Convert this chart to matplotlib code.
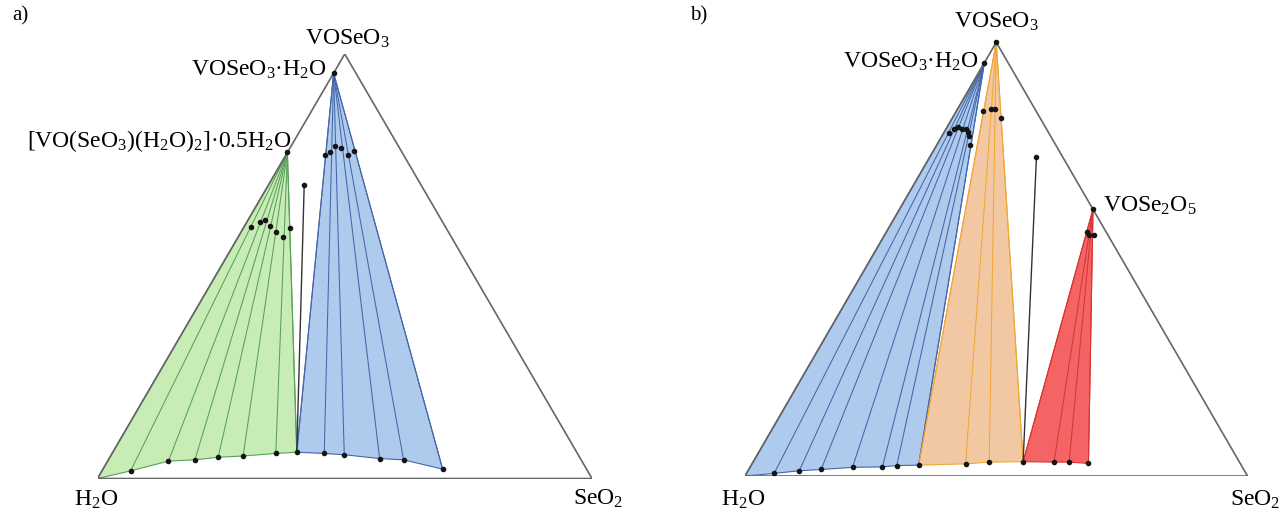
import numpy as np
from matplotlib import pyplot as plt

plt.rcParams['font.family'] = ['Liberation Serif', 'DejaVu Serif']
plt.rcParams['mathtext.fontset'] = 'custom'
plt.rcParams['mathtext.rm'] = 'Liberation Serif'
plt.rcParams['mathtext.it'] = 'Liberation Serif:italic'
plt.rcParams['mathtext.bf'] = 'Liberation Serif:bold'

# ---- a) 组成 (wt% SeO2, wt% VOSeO3) ----
# 溶解度曲线，H2O 顶点起
a_curve_seo2 = [0, 5.8, 12.3, 17.5, 21.9, 26.8, 33.1, 37.2, 42.9, 47.1, 54.7, 59.7, 68.7]
a_curve_vose = [0, 1.8, 4.1, 4.4, 5.0, 5.3, 5.9, 6.2, 5.9, 5.6, 4.7, 4.4, 2.2]
a_green_range = (0, 7)   # [VO(SeO3)(H2O)2]·0.5H2O 区
a_blue_range = (7, 12)   # VOSeO3·H2O 区
a_solid_green = (0, 76.8)
a_solid_blue = (0, 95.5)
# 湿渣
a_wet_green_seo2 = [1.4, 2.6, 3.4, 5.1, 7.0, 9.1, 9.4]
a_wet_green_vose = [59.3, 60.5, 60.9, 59.5, 58.1, 57.0, 58.9]
a_wet_blue_seo2 = [7.9, 8.5, 8.9, 10.4, 12.5, 13.3]
a_wet_blue_vose = [76.2, 77.0, 78.3, 77.8, 76.2, 77.2]
a_ray_top = (7.25, 69.1)

# ---- b) ----
b_curve_seo2 = [0, 5.5, 10.2, 14.4, 20.4, 26.3, 29.0, 33.3, 42.5, 47.0, 53.7, 59.9, 62.9, 66.9]
b_curve_vose = [0, 0.6, 1.2, 1.5, 2.0, 2.1, 2.4, 2.5, 2.8, 3.2, 3.3, 3.2, 3.2, 2.9]
b_blue_range = (0, 7)
b_orange_range = (7, 10)
b_red_range = (10, 13)
b_solid_blue = (0, 95.3)
b_solid_orange = (0, 100)
b_solid_red = (38.5, 61.5)
b_wet_blue_seo2 = [0.9, 1.7, 2.1, 3.2, 4.0, 4.8, 5.4, 6.7]
b_wet_blue_vose = [79.2, 79.9, 80.4, 79.9, 79.9, 79.3, 78.4, 76.3]
b_wet_orange_seo2 = [5.3, 6.6, 7.5, 9.7]
b_wet_orange_vose = [84.2, 84.7, 84.6, 82.5]
b_wet_red_seo2 = [40.0, 40.7, 41.7]
b_wet_red_vose = [56.3, 55.6, 55.5]
b_ray_top = (21.2, 73.6)


def tern(s, v):
    s = np.asarray(s, dtype=float) / 100
    v = np.asarray(v, dtype=float) / 100
    return s + v / 2, v


def region(ax, solid, cs, cv, rng, face, edge):
    i0, i1 = rng
    xs, ys = tern(cs[i0:i1 + 1], cv[i0:i1 + 1])
    px, py = tern(*solid)
    ax.fill(np.r_[px, xs], np.r_[py, ys], facecolor=face, edgecolor=edge, lw=0.8, zorder=1)
    for x, y in zip(xs, ys):
        ax.plot([px, x], [py, y], color=edge, lw=0.75, zorder=2)


def frame(ax):
    ax.plot([0, 1, 0.5, 0], [0, 0, 1, 0], color='#666666', lw=1.2, zorder=3)
    ax.set_xlim(0, 1)
    ax.set_ylim(0, 1)
    ax.axis('off')


def dots(ax, s, v):
    x, y = tern(s, v)
    ax.plot(x, y, 'o', color='#151515', ms=3.0, zorder=5, clip_on=False)


fig = plt.figure(figsize=(12.81, 5.11), dpi=100)
fs = 17

# ---------------- a ----------------
ax = fig.add_axes([97.5 / 1281, (511 - 478.5) / 511, 494.5 / 1281, 424.5 / 511])
region(ax, a_solid_green, a_curve_seo2, a_curve_vose, a_green_range, '#c8ecb6', '#58a058')
region(ax, a_solid_blue, a_curve_seo2, a_curve_vose, a_blue_range, '#aecbee', '#4466a8')
frame(ax)
rx, ry = tern([a_ray_top[0], a_curve_seo2[7]], [a_ray_top[1], a_curve_vose[7]])
ax.plot(rx, ry, color='#333333', lw=1.0, zorder=4)
dots(ax, a_curve_seo2[1:], a_curve_vose[1:])
dots(ax, [a_solid_green[0], a_solid_blue[0], a_ray_top[0]],
     [a_solid_green[1], a_solid_blue[1], a_ray_top[1]])
dots(ax, a_wet_green_seo2, a_wet_green_vose)
dots(ax, a_wet_blue_seo2, a_wet_blue_vose)

ax.text(0.5045, 1.035, r'VOSeO$_3$', fontsize=fs, ha='center', va='center')
ax.text(0.464, 0.962, r'VOSeO$_3$·H$_2$O', fontsize=fs, ha='right', va='center')
ax.text(0.393, 0.795, r'[VO(SeO$_3$)(H$_2$O)$_2$]·0.5H$_2$O', fontsize=fs, ha='right', va='center')
ax.text(-0.003, -0.051, r'H$_2$O', fontsize=fs, ha='center', va='center')
ax.text(1.012, -0.048, r'SeO$_2$', fontsize=fs, ha='center', va='center')
fig.text(12 / 1281, 1 - 16 / 511, 'a)', fontsize=15, ha='left', va='center')

# ---------------- b ----------------
ax = fig.add_axes([745 / 1281, (511 - 476) / 511, 502.5 / 1281, 433.7 / 511])
region(ax, b_solid_blue, b_curve_seo2, b_curve_vose, b_blue_range, '#aecbee', '#4466a8')
region(ax, b_solid_orange, b_curve_seo2, b_curve_vose, b_orange_range, '#f2c8a2', '#f2a634')
region(ax, b_solid_red, b_curve_seo2, b_curve_vose, b_red_range, '#f46464', '#d83434')
frame(ax)
rx, ry = tern([b_ray_top[0], b_curve_seo2[10]], [b_ray_top[1], b_curve_vose[10]])
ax.plot(rx, ry, color='#333333', lw=1.0, zorder=4)
dots(ax, b_curve_seo2[1:], b_curve_vose[1:])
dots(ax, [b_solid_blue[0], b_solid_orange[0], b_solid_red[0], b_ray_top[0]],
     [b_solid_blue[1], b_solid_orange[1], b_solid_red[1], b_ray_top[1]])
dots(ax, b_wet_blue_seo2, b_wet_blue_vose)
dots(ax, b_wet_orange_seo2, b_wet_orange_vose)
dots(ax, b_wet_red_seo2, b_wet_red_vose)

ax.text(0.5, 1.047, r'VOSeO$_3$', fontsize=fs, ha='center', va='center')
ax.text(0.4663, 0.955, r'VOSeO$_3$·H$_2$O', fontsize=fs, ha='right', va='center')
ax.text(0.712, 0.622, r'VOSe$_2$O$_5$', fontsize=fs, ha='left', va='center')
ax.text(-0.004, -0.055, r'H$_2$O', fontsize=fs, ha='center', va='center')
ax.text(1.015, -0.055, r'SeO$_2$', fontsize=fs, ha='center', va='center')
fig.text(690 / 1281, 1 - 16 / 511, 'b)', fontsize=15, ha='left', va='center')

plt.savefig('out.png', dpi=100)
